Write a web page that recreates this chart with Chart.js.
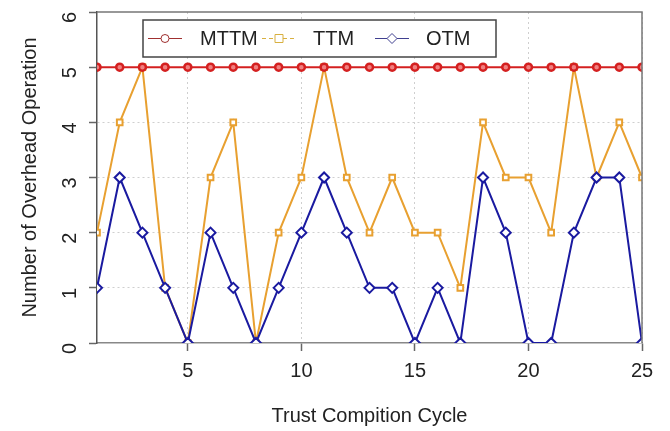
<!DOCTYPE html>
<html>
<head>
<meta charset="utf-8">
<script src="https://cdn.jsdelivr.net/npm/chart.js@4"></script>
<style>
  html, body { margin: 0; padding: 0; background: #fff; }
  #wrap { width: 670px; height: 431px; }
</style>
</head>
<body>
<div id="wrap"><canvas id="chart" width="670" height="431"></canvas></div>
<script>
// data
const cycles = [1,2,3,4,5,6,7,8,9,10,11,12,13,14,15,16,17,18,19,20,21,22,23,24,25];
const mttm = [5,5,5,5,5,5,5,5,5,5,5,5,5,5,5,5,5,5,5,5,5,5,5,5,5];
const ttm  = [2,4,5,1,0,3,4,0,2,3,5,3,2,3,2,2,1,4,3,3,2,5,3,4,3];
const otm  = [1,3,2,1,0,2,1,0,1,2,3,2,1,1,0,1,0,3,2,0,0,2,3,3,0];
const xTicks = [5, 10, 15, 20, 25];
const yTicks = [0, 1, 2, 3, 4, 5, 6];

const font = "Liberation Sans, Arial, sans-serif";

function pts(arr) {
    return arr.map((v, i) => ({ x: cycles[i], y: v }));
}

// box around plot + legend drawn R-style
const boxPlugin = {
    id: "box",
    afterDatasetsDraw(chart) {
        const ctx = chart.ctx;
        const a = chart.chartArea;
        ctx.save();
        ctx.strokeStyle = "#777";
        ctx.lineWidth = 1.5;
        ctx.beginPath();
        ctx.moveTo(a.left, a.top);
        ctx.lineTo(a.right, a.top);
        ctx.lineTo(a.right, a.bottom);
        ctx.stroke();

        // legend
        const lx = 143, ly = 20, lw = 353, lh = 37;
        ctx.fillStyle = "#fff";
        ctx.fillRect(lx, ly, lw, lh);
        ctx.strokeStyle = "#444";
        ctx.lineWidth = 1.5;
        ctx.strokeRect(lx, ly, lw, lh);
        const items = [
            { x: 148, tx: 200 },
            { x: 262, tx: 313 },
            { x: 375, tx: 426 }
        ];
        const cy = ly + lh / 2;
        chart.data.datasets.forEach((ds, i) => {
            const it = items[i];
            ctx.strokeStyle = ds.legendColor;
            ctx.lineWidth = 1;
            ctx.setLineDash(i === 1 ? [4, 3] : []);
            ctx.beginPath();
            ctx.moveTo(it.x, cy);
            ctx.lineTo(it.x + 34, cy);
            ctx.stroke();
            ctx.setLineDash([]);
            const mx = it.x + 17;
            ctx.fillStyle = "#fff";
            ctx.beginPath();
            if (i === 0) {
                ctx.arc(mx, cy, 4, 0, Math.PI * 2);
            } else if (i === 1) {
                ctx.rect(mx - 4, cy - 4, 8, 8);
            } else {
                ctx.moveTo(mx, cy - 5);
                ctx.lineTo(mx + 5, cy);
                ctx.lineTo(mx, cy + 5);
                ctx.lineTo(mx - 5, cy);
                ctx.closePath();
            }
            ctx.fill();
            ctx.stroke();
            ctx.fillStyle = "#222";
            ctx.font = "20px " + font;
            ctx.textBaseline = "middle";
            ctx.fillText(ds.label, it.tx, cy + 1);
        });
        ctx.restore();
    }
};

new Chart(document.getElementById("chart"), {
    type: "line",
    data: {
        datasets: [
            {
                label: "MTTM",
                data: pts(mttm),
                borderColor: "#d42020",
                backgroundColor: "#f08080",
                legendColor: "#a03030",
                borderWidth: 2,
                pointStyle: "circle",
                pointRadius: 3.5,
                pointBorderWidth: 2.5,
                order: 0
            },
            {
                label: "TTM",
                data: pts(ttm),
                borderColor: "#e8a030",
                backgroundColor: "#fff",
                legendColor: "#d8b040",
                borderWidth: 2,
                pointStyle: "rect",
                pointRadius: 4,
                pointBorderWidth: 2,
                order: 2
            },
            {
                label: "OTM",
                data: pts(otm),
                borderColor: "#1a1aa0",
                backgroundColor: "#fff",
                legendColor: "#404090",
                borderWidth: 2,
                pointStyle: "rectRot",
                pointRadius: 5,
                pointBorderWidth: 2,
                order: 1
            }
        ]
    },
    options: {
        responsive: false,
        animation: false,
        layout: { padding: { left: 0, right: 28, top: 12, bottom: 0 } },
        plugins: {
            legend: { display: false },
            tooltip: { enabled: false }
        },
        scales: {
            x: {
                type: "linear",
                min: 1,
                max: 25,
                afterBuildTicks: s => { s.ticks = xTicks.map(v => ({ value: v })); },
                grid: {
                    color: "#cfcfcf",
                    tickColor: "#666",
                    tickBorderDash: [],
                    tickLength: 8,
                    tickWidth: 1.5
                },
                border: { display: true, color: "#888", width: 1.5, dash: [2, 3] },
                ticks: {
                    color: "#222",
                    font: { family: font, size: 20 },
                    padding: 8,
                    maxRotation: 0
                },
                title: {
                    display: true,
                    text: "Trust Compition Cycle",
                    color: "#222",
                    font: { family: font, size: 20 },
                    padding: { top: 13, bottom: 3 }
                }
            },
            y: {
                min: 0,
                max: 6,
                afterBuildTicks: s => { s.ticks = yTicks.map(v => ({ value: v })); },
                afterFit: s => { s.width = 97; s.paddingTop = 0; s.paddingBottom = 0; },
                grid: {
                    color: (c) => (c.tick && (c.tick.value === 0 || c.tick.value === 6)) ? "rgba(0,0,0,0)" : "#cfcfcf",
                    tickColor: "#666",
                    tickBorderDash: [],
                    tickLength: 8,
                    tickWidth: 1.5
                },
                border: { display: true, color: "#555", width: 1.5, dash: [2, 3] },
                ticks: {
                    color: "#222",
                    font: { family: font, size: 20 },
                    minRotation: 90,
                    maxRotation: 90,
                    padding: 19
                },
                title: {
                    display: true,
                    text: "Number of Overhead Operation",
                    color: "#222",
                    font: { family: font, size: 20 },
                    padding: { top: 18, bottom: 4 }
                }
            }
        }
    },
    plugins: [boxPlugin]
});
</script>
</body>
</html>
